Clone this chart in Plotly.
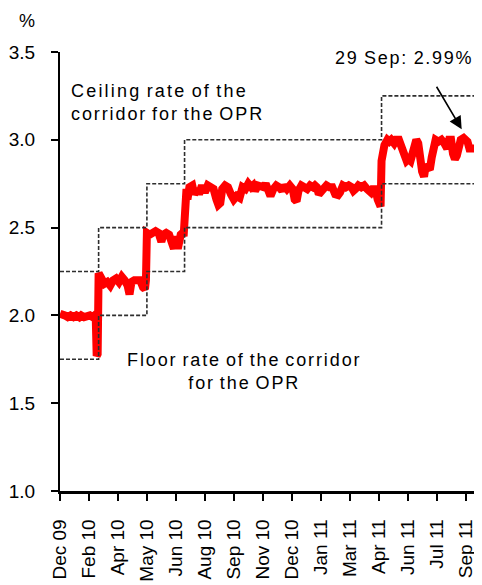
import pandas as pd
import plotly.graph_objects as go

# Weekday market closures (trading-day axis)
holidays = ["2010-01-01", "2010-02-01", "2010-02-15", "2010-02-16", "2010-02-26",
            "2010-05-28", "2010-08-31", "2010-09-10", "2010-11-05", "2010-11-17",
            "2010-12-07", "2011-01-20", "2011-02-01", "2011-02-03", "2011-02-04",
            "2011-02-16", "2011-05-02", "2011-05-17", "2011-08-30", "2011-08-31",
            "2011-09-01", "2011-09-16"]

# Corridor around the OPR
corridor_dates = ["2009-12-31", "2010-03-04", "2010-05-13", "2010-07-08", "2011-05-05", "2011-10-04"]
ceiling_rates = [2.25, 2.50, 2.75, 3.00, 3.25, 3.25]
floor_rates = [1.75, 2.00, 2.25, 2.50, 2.75, 2.75]

# Overnight interbank rate (%)
rate_dates = [
    "2009-12-31", "2010-01-05", "2010-01-08", "2010-01-13", "2010-01-18", "2010-01-21",
    "2010-01-26", "2010-01-29", "2010-02-03", "2010-02-08", "2010-02-11", "2010-02-18",
    "2010-02-23", "2010-02-25", "2010-03-01", "2010-03-02", "2010-03-03",
    "2010-03-04", "2010-03-05", "2010-03-09", "2010-03-12", "2010-03-17", "2010-03-22",
    "2010-03-25", "2010-03-30", "2010-04-02", "2010-04-07", "2010-04-12", "2010-04-15",
    "2010-04-19", "2010-04-21", "2010-04-26", "2010-04-29", "2010-05-04", "2010-05-07",
    "2010-05-11", "2010-05-12",
    "2010-05-13", "2010-05-18", "2010-05-21", "2010-05-26", "2010-06-01", "2010-06-04",
    "2010-06-08", "2010-06-11", "2010-06-16", "2010-06-21", "2010-06-23", "2010-06-25",
    "2010-06-29", "2010-07-02", "2010-07-06", "2010-07-07",
    "2010-07-08", "2010-07-09", "2010-07-12", "2010-07-13", "2010-07-15", "2010-07-20",
    "2010-07-22", "2010-07-27", "2010-07-29", "2010-08-03", "2010-08-06", "2010-08-11",
    "2010-08-16", "2010-08-19", "2010-08-24", "2010-08-26", "2010-08-30", "2010-09-02",
    "2010-09-07", "2010-09-13", "2010-09-16", "2010-09-21", "2010-09-24", "2010-09-29",
    "2010-10-04", "2010-10-07", "2010-10-12", "2010-10-15", "2010-10-19", "2010-10-21",
    "2010-10-26", "2010-10-29", "2010-11-03", "2010-11-08", "2010-11-11", "2010-11-15",
    "2010-11-19", "2010-11-24", "2010-11-29", "2010-12-02", "2010-12-06", "2010-12-10",
    "2010-12-15", "2010-12-20", "2010-12-22", "2010-12-24", "2010-12-28", "2010-12-31",
    "2011-01-05", "2011-01-10", "2011-01-13", "2011-01-18", "2011-01-21", "2011-01-25",
    "2011-01-27", "2011-01-31", "2011-02-08", "2011-02-11", "2011-02-17", "2011-02-22",
    "2011-02-25", "2011-03-02", "2011-03-04", "2011-03-09", "2011-03-14", "2011-03-17",
    "2011-03-22", "2011-03-24", "2011-03-28", "2011-03-31", "2011-04-05", "2011-04-08",
    "2011-04-13", "2011-04-15", "2011-04-19", "2011-04-22", "2011-04-26", "2011-04-28",
    "2011-05-03", "2011-05-04",
    "2011-05-05", "2011-05-06", "2011-05-09", "2011-05-10", "2011-05-12", "2011-05-13",
    "2011-05-18", "2011-05-20", "2011-05-25", "2011-05-27", "2011-06-01", "2011-06-03",
    "2011-06-07", "2011-06-09", "2011-06-13", "2011-06-15", "2011-06-17", "2011-06-21",
    "2011-06-23", "2011-06-27", "2011-06-29", "2011-07-01", "2011-07-05", "2011-07-07",
    "2011-07-11", "2011-07-13", "2011-07-15", "2011-07-19", "2011-07-21", "2011-07-25",
    "2011-07-28", "2011-08-02", "2011-08-05", "2011-08-08", "2011-08-10", "2011-08-12",
    "2011-08-16", "2011-08-18", "2011-08-22", "2011-08-24", "2011-08-26", "2011-09-02",
    "2011-09-07", "2011-09-09", "2011-09-13", "2011-09-15", "2011-09-20", "2011-09-22",
    "2011-09-26", "2011-09-28", "2011-09-29",
]
rate_values = [
    2.01, 2.00, 2.00, 1.99, 2.00, 1.99,
    2.00, 1.99, 2.00, 1.99, 2.00, 2.00,
    1.99, 2.00, 1.99, 1.77, 1.78,
    2.24, 2.23, 2.20, 2.18, 2.19, 2.17,
    2.20, 2.21, 2.19, 2.22, 2.20, 2.17,
    2.12, 2.19, 2.20, 2.20, 2.20, 2.16,
    2.15, 2.20,
    2.47, 2.46, 2.47, 2.48, 2.47, 2.42,
    2.46, 2.47, 2.46, 2.40, 2.38, 2.45,
    2.38, 2.46, 2.47, 2.45,
    2.68, 2.66, 2.72, 2.66, 2.73, 2.74,
    2.69, 2.72, 2.69, 2.74, 2.70, 2.74,
    2.73, 2.72, 2.66, 2.63, 2.64, 2.72,
    2.74, 2.73, 2.69, 2.66, 2.68, 2.67,
    2.73, 2.72, 2.75, 2.73, 2.74, 2.71,
    2.74, 2.74, 2.73, 2.75, 2.69, 2.68,
    2.72, 2.74, 2.73, 2.71, 2.74, 2.72,
    2.74, 2.72, 2.66, 2.65, 2.71, 2.74,
    2.73, 2.72, 2.74, 2.73, 2.74, 2.73,
    2.69, 2.70, 2.72, 2.74, 2.73, 2.73,
    2.69, 2.685, 2.70, 2.74, 2.73, 2.74,
    2.73, 2.71, 2.72, 2.74, 2.73, 2.74,
    2.72, 2.70, 2.70, 2.73, 2.71, 2.66,
    2.64, 2.62,
    2.88, 2.92, 2.95, 2.97, 2.99, 3.00,
    2.99, 3.00, 2.98, 3.00, 3.00, 2.97,
    2.91, 2.88, 2.88, 2.89, 2.88, 2.92,
    2.99, 3.00, 2.98, 2.88, 2.82, 2.79,
    2.86, 2.84, 2.83, 2.90, 2.99, 3.00,
    2.99, 3.00, 2.98, 2.95, 2.95, 3.00,
    3.00, 2.92, 2.89, 2.91, 2.99, 3.00,
    3.01, 3.00, 2.99, 2.95, 2.95, 2.96,
    2.95, 2.96, 2.95,
]

tick_labels = ["Dec 09", "Feb 10", "Apr 10", "May 10", "Jun 10", "Aug 10", "Sep 10",
               "Nov 10", "Dec 10", "Jan 11", "Mar 11", "Apr 11", "Jun 11", "Jul 11", "Sep 11"]
y_ticks = [1.0, 1.5, 2.0, 2.5, 3.0, 3.5]

# every 30th trading day carries a tick
trading_days = pd.bdate_range("2009-12-31", "2011-10-04", freq="C", holidays=holidays)
tick_dates = list(trading_days[::30][:len(tick_labels)])

FONT = "Liberation Sans, Arial, sans-serif"
dash_style = dict(color="#2e2e2e", width=1.6, dash="4px,2px")


def spaced(text, ls=1.9, ws=-2):
    return f'<span style="letter-spacing:{ls}px;word-spacing:{ws}px">{text}</span>'


fig = go.Figure()
fig.add_trace(go.Scatter(x=rate_dates, y=rate_values, mode="lines",
                         line=dict(color="#ff0000", width=8), hoverinfo="skip"))
fig.add_trace(go.Scatter(x=corridor_dates, y=ceiling_rates, mode="lines",
                         line=dict(shape="hv", **dash_style), hoverinfo="skip"))
fig.add_trace(go.Scatter(x=corridor_dates, y=floor_rates, mode="lines",
                         line=dict(shape="hv", **dash_style), hoverinfo="skip"))

fig.update_layout(
    width=482, height=585,
    margin=dict(l=52, r=9, t=44, b=102, autoexpand=False),
    paper_bgcolor="white", plot_bgcolor="white",
    showlegend=False,
    font=dict(family=FONT, size=18, color="black"),
    xaxis=dict(
        type="date", automargin=False,
        range=["2009-12-31", "2011-10-04"],
        rangebreaks=[dict(bounds=["sat", "mon"]), dict(values=holidays)],
        tickmode="array", tickvals=tick_dates, ticktext=tick_labels,
        tickangle=-90, ticks="outside", ticklen=7, tickwidth=1.5, tickcolor="black",
        showline=True, linecolor="black", linewidth=2.5,
        showgrid=False, zeroline=False,
        tickfont=dict(family=FONT, size=19, color="black"),
        ticklabelstandoff=11,
    ),
    yaxis=dict(
        range=[1.0, 3.5], automargin=False, tickmode="array",
        tickvals=y_ticks, ticktext=[f"{v:.1f}" for v in y_ticks],
        ticks="outside", ticklen=7, tickwidth=1.5, tickcolor="black",
        showline=True, linecolor="black", linewidth=2,
        showgrid=False, zeroline=False,
        tickfont=dict(family=FONT, size=19, color="black"),
        ticklabelstandoff=12,
    ),
    annotations=[
        dict(text="%", xref="paper", yref="paper", x=-0.078, y=1.071,
             xanchor="center", yanchor="middle", showarrow=False,
             font=dict(size=18)),
        dict(text=spaced("Ceiling rate of the", 2.2) + "<br>" + spaced("corridor for the OPR"),
             xref="paper", yref="paper", x=0.022, y=0.884, xanchor="left", yanchor="middle",
             align="left", showarrow=False, font=dict(size=18)),
        dict(text=spaced("Floor rate of the corridor") + "<br>" + spaced("for the OPR"),
             xref="paper", yref="paper", x=0.437, y=0.273, xanchor="center", yanchor="middle",
             align="center", showarrow=False, font=dict(size=18)),
        dict(text=spaced("29 Sep: 2.99%", 1.7, -1),
             xref="paper", yref="paper", x=0.985, y=0.986, xanchor="right", yanchor="middle",
             showarrow=False, font=dict(size=18)),
        dict(text="", x="2011-09-05", y=3.06, xref="x", yref="y",
             showarrow=True, ax=-26, ay=-44, arrowhead=2, arrowsize=1.6,
             arrowwidth=1.6, arrowcolor="black"),
    ],
)

fig.write_html("out.html")
